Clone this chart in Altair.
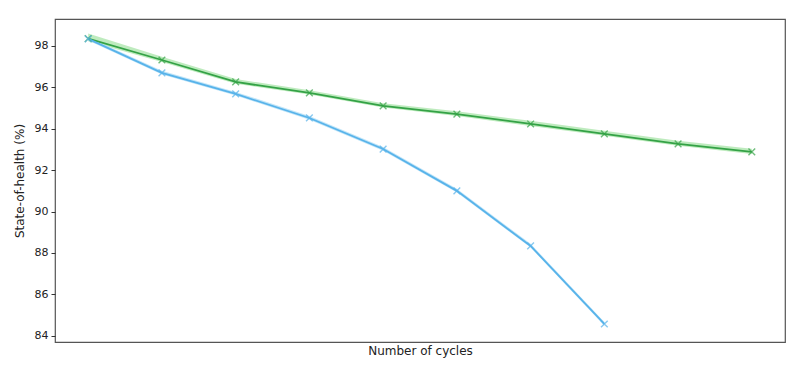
import altair as alt
import pandas as pd

cycles = [1, 2, 3, 4, 5, 6, 7, 8, 9, 10]
green_soh = [98.35, 97.32, 96.26, 95.73, 95.10, 94.71, 94.23, 93.75, 93.27, 92.88]
blue_soh = [98.34, 96.70, 95.68, 94.52, 93.02, 91.00, 88.34, 84.57]
green_lo = [98.22, 97.22, 96.17, 95.65, 95.02, 94.62, 94.13, 93.66, 93.18, 92.78]
green_hi = [98.60, 97.48, 96.40, 95.86, 95.23, 94.85, 94.38, 93.90, 93.42, 93.03]
blue_lo = [98.26, 96.62, 95.60, 94.44, 92.94, 90.92, 88.26, 84.49]
blue_hi = [98.42, 96.80, 95.78, 94.62, 93.12, 91.10, 88.44, 84.67]

rows = []
for i, v in enumerate(green_soh):
    rows.append({"cycle": cycles[i], "soh": v, "lo": green_lo[i], "hi": green_hi[i], "series": "green"})
for i, v in enumerate(blue_soh):
    rows.append({"cycle": cycles[i], "soh": v, "lo": blue_lo[i], "hi": blue_hi[i], "series": "blue"})
df = pd.DataFrame(rows)

band_scale = alt.Scale(domain=["green", "blue"], range=["#b3e8b3", "#b5e0f7"])
line_scale = alt.Scale(domain=["green", "blue"], range=["#34a246", "#58b3ea"])

x = alt.X("cycle:Q", scale=alt.Scale(domain=[0.55, 10.45], nice=False, zero=False),
          axis=alt.Axis(title="Number of cycles", labels=False, ticks=False, grid=False,
                        domain=False, titleFontWeight="normal", titleFontSize=12,
                        titleFont="DejaVu Sans", titleColor="#222", titlePadding=3))
y = alt.Y("soh:Q", scale=alt.Scale(domain=[83.7, 99.3], nice=False, zero=False),
          axis=alt.Axis(title="State-of-health (%)", values=[84, 86, 88, 90, 92, 94, 96, 98],
                        grid=False, domain=False, tickSize=4, tickColor="#333",
                        labelFontSize=11, labelFont="DejaVu Sans", labelColor="#222",
                        titleFontWeight="normal", titleFontSize=12, titleFont="DejaVu Sans",
                        titleColor="#222", titlePadding=8, labelPadding=3))

band = alt.Chart(df).mark_area(opacity=0.85).encode(
    x=x, y=alt.Y("lo:Q"), y2="hi:Q",
    color=alt.Color("series:N", scale=band_scale, legend=None),
    detail="series:N",
)
line = alt.Chart(df).mark_line(strokeWidth=1.8).encode(
    x=x, y=y,
    color=alt.Color("series:N", scale=line_scale, legend=None),
)
pts = alt.Chart(df).mark_point(shape="M-1,-1L1,1M-1,1L1,-1", filled=False, size=45,
                               strokeWidth=1.4).encode(
    x=x, y=y,
    color=alt.Color("series:N", scale=line_scale, legend=None),
)

chart = (band + line + pts).properties(
    width=730, height=323,
    autosize=alt.AutoSizeParams(type="none"),
    padding={"left": 47, "top": 11, "right": 7, "bottom": 16},
).configure_view(stroke="#555", strokeWidth=1.2).resolve_scale(color="independent")

chart.save("out.html", embed_options={"renderer": "svg", "actions": False})
